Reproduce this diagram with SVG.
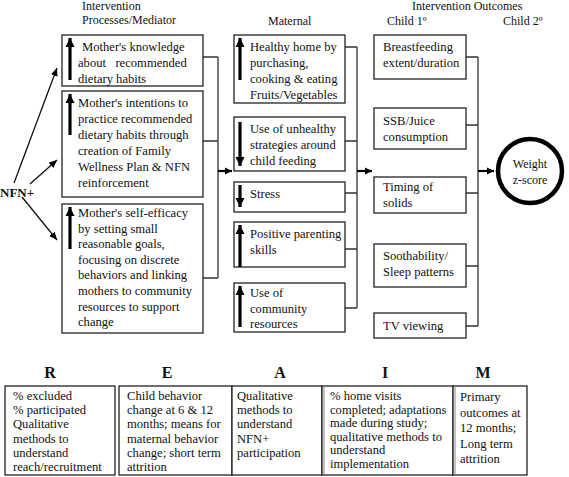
<svg xmlns="http://www.w3.org/2000/svg" width="569" height="477" viewBox="0 0 569 477" font-family="'Liberation Serif', 'Times New Roman', serif">
<defs>
<style>
text{font-family:'Liberation Serif','Times New Roman',serif;font-size:12.6px;fill:#111}
.hd{font-size:12px}
.bold{font-weight:bold}
.big{font-size:16px;font-weight:bold}
.box{fill:#fff;stroke:#222;stroke-width:1.3}
.conn{fill:none;stroke:#333;stroke-width:1.3}
.thin{fill:none;stroke:#111;stroke-width:1.3}
.ind{stroke:#000;stroke-width:3.2;marker-end:url(#bigHead)}
.go{stroke:#000;stroke-width:2.2;marker-end:url(#goHead)}
</style>
<marker id="bigHead" markerUnits="userSpaceOnUse" markerWidth="10" markerHeight="10" refX="9" refY="5" orient="auto"><path d="M0,0.5 L9,5 L0,9.5 z" fill="#000"/></marker>
<marker id="goHead" markerUnits="userSpaceOnUse" markerWidth="8" markerHeight="8" refX="7" refY="4" orient="auto"><path d="M0,0.5 L7,4 L0,7.5 z" fill="#000"/></marker>
<marker id="thinHead" markerUnits="userSpaceOnUse" markerWidth="9" markerHeight="8" refX="8" refY="4" orient="auto"><path d="M0,0.5 L8,4 L0,7.5 z" fill="#000"/></marker>
</defs>
<rect width="569" height="477" fill="#fff"/>

<g id="headers">
<text class="hd" x="82" y="10">Intervention</text>
<text class="hd" x="82" y="24">Processes/Mediator</text>
<text class="hd" x="268" y="25">Maternal</text>
<text class="hd" x="412" y="10">Intervention Outcomes</text>
<text class="hd" x="387" y="25">Child 1º</text>
<text class="hd" x="503" y="25">Child 2º</text>
</g>

<g id="connectors">
<line class="thin" x1="14" y1="183" x2="57" y2="68" marker-end="url(#thinHead)"/>
<line class="thin" x1="30" y1="184" x2="57" y2="160" marker-end="url(#thinHead)"/>
<line class="thin" x1="22" y1="197" x2="57" y2="240" marker-end="url(#thinHead)"/>
<path class="conn" d="M203,57 H218 M203,141 H218 M203,278 H218 M218,57 V278"/>
<line class="go" x1="218" y1="171" x2="232" y2="171"/>
<path class="conn" d="M345,47 H357 M345,141 H357 M345,193 H357 M345,249 H357 M345,308 H357 M357,47 V308"/>
<line class="go" x1="357" y1="171" x2="372" y2="171"/>
<path class="conn" d="M466,57 H478 M466,125 H478 M466,193 H478 M466,266 H478 M466,326 H478 M478,57 V326"/>
<line class="go" x1="478" y1="171" x2="494" y2="171"/>
</g>

<g id="nfn"><text class="bold" x="0" y="197" style="font-size:13px">NFN+</text></g>

<g id="med1">
<rect class="box" x="62" y="35" width="141" height="51"/>
<line class="ind" x1="70" y1="80" x2="70" y2="38"/>
<text x="82" y="51">Mother's knowledge</text>
<text x="78" y="67" xml:space="preserve">about   recommended</text>
<text x="78" y="83">dietary habits</text>
</g>
<g id="med2">
<rect class="box" x="62" y="91" width="141" height="106"/>
<line class="ind" x1="70" y1="135" x2="70" y2="94"/>
<text x="78" y="107">Mother's intentions to</text>
<text x="78" y="123">practice recommended</text>
<text x="78" y="139">dietary habits through</text>
<text x="78" y="155">creation of Family</text>
<text x="78" y="171">Wellness Plan &amp; NFN</text>
<text x="78" y="187">reinforcement</text>
</g>
<g id="med3">
<rect class="box" x="62" y="204" width="141" height="129"/>
<line class="ind" x1="70" y1="249" x2="70" y2="207"/>
<text x="78" y="217">Mother's self-efficacy</text>
<text x="78" y="232.6">by setting small</text>
<text x="78" y="248.2">reasonable goals,</text>
<text x="78" y="263.8">focusing on discrete</text>
<text x="78" y="279.4">behaviors and linking</text>
<text x="78" y="295">mothers to community</text>
<text x="78" y="310.6">resources to support</text>
<text x="78" y="326.2">change</text>
</g>

<g id="mat1">
<rect class="box" x="234" y="35" width="111" height="68"/>
<line class="ind" x1="240" y1="80" x2="240" y2="38"/>
<text x="250" y="51">Healthy home by</text>
<text x="250" y="67">purchasing,</text>
<text x="250" y="83">cooking &amp; eating</text>
<text x="250" y="99">Fruits/Vegetables</text>
</g>
<g id="mat2">
<rect class="box" x="234" y="117" width="111" height="54"/>
<line class="ind" x1="240" y1="122" x2="240" y2="166"/>
<text x="250" y="133">Use of unhealthy</text>
<text x="250" y="149">strategies around</text>
<text x="250" y="165">child feeding</text>
</g>
<g id="mat3">
<rect class="box" x="234" y="182" width="111" height="30"/>
<line class="ind" x1="240" y1="185" x2="240" y2="207"/>
<text x="250" y="198">Stress</text>
</g>
<g id="mat4">
<rect class="box" x="234" y="222" width="111" height="45"/>
<line class="ind" x1="240" y1="267" x2="240" y2="225"/>
<text x="250" y="238">Positive parenting</text>
<text x="250" y="254">skills</text>
</g>
<g id="mat5">
<rect class="box" x="234" y="283" width="111" height="49"/>
<line class="ind" x1="240" y1="327" x2="240" y2="286"/>
<text x="250" y="297">Use of</text>
<text x="250" y="312.5">community</text>
<text x="250" y="328">resources</text>
</g>

<g id="out1">
<rect class="box" x="374" y="35" width="92" height="44"/>
<text x="383" y="51">Breastfeeding</text>
<text x="383" y="67">extent/duration</text>
</g>
<g id="out2">
<rect class="box" x="374" y="108" width="92" height="41"/>
<text x="383" y="125">SSB/Juice</text>
<text x="383" y="141">consumption</text>
</g>
<g id="out3">
<rect class="box" x="374" y="177" width="92" height="36"/>
<text x="383" y="191">Timing of</text>
<text x="383" y="207">solids</text>
</g>
<g id="out4">
<rect class="box" x="374" y="244" width="92" height="43"/>
<text x="383" y="260">Soothability/</text>
<text x="383" y="276">Sleep patterns</text>
</g>
<g id="out5">
<rect class="box" x="374" y="313" width="92" height="25"/>
<text x="383" y="330">TV viewing</text>
</g>

<g id="weight">
<circle cx="530" cy="171" r="32" fill="#fff" stroke="#000" stroke-width="4.5"/>
<text x="530" y="168" text-anchor="middle" style="font-size:12px">Weight</text>
<text x="530" y="184" text-anchor="middle" style="font-size:12px">z-score</text>
</g>

<g id="reaim-letters">
<text class="big" x="50" y="378" text-anchor="middle">R</text>
<text class="big" x="167" y="378" text-anchor="middle">E</text>
<text class="big" x="280" y="378" text-anchor="middle">A</text>
<text class="big" x="385" y="378" text-anchor="middle">I</text>
<text class="big" x="483" y="378" text-anchor="middle">M</text>
</g>
<g id="reach">
<rect class="box" x="5" y="386" width="110" height="89"/>
<text x="13" y="400">% excluded</text>
<text x="13" y="414.2">% participated</text>
<text x="13" y="428.4">Qualitative</text>
<text x="13" y="442.6">methods to</text>
<text x="13" y="456.8">understand</text>
<text x="13" y="471">reach/recruitment</text>
</g>
<g id="effect">
<rect class="box" x="119" y="386" width="113" height="89"/>
<text x="127" y="400">Child behavior</text>
<text x="127" y="414.2">change at 6 &amp; 12</text>
<text x="127" y="428.4">months; means for</text>
<text x="127" y="442.6">maternal behavior</text>
<text x="127" y="456.8">change; short term</text>
<text x="127" y="471">attrition</text>
</g>
<g id="adopt">
<rect class="box" x="232" y="386" width="90" height="89"/>
<text x="237" y="400">Qualitative</text>
<text x="237" y="414.2">methods to</text>
<text x="237" y="428.4">understand</text>
<text x="237" y="442.6">NFN+</text>
<text x="237" y="456.8">participation</text>
</g>
<g id="implement">
<rect class="box" x="322" y="386" width="131" height="89"/>
<line x1="324" y1="386" x2="324" y2="475" stroke="#888" stroke-width="1"/>
<text x="330" y="400">% home visits</text>
<text x="330" y="413.5">completed; adaptations</text>
<text x="330" y="427">made during study;</text>
<text x="330" y="440.5">qualitative methods to</text>
<text x="330" y="454">understand</text>
<text x="330" y="467.5">implementation</text>
</g>
<g id="maintain">
<rect class="box" x="453" y="386" width="74" height="89"/>
<line x1="455" y1="386" x2="455" y2="475" stroke="#888" stroke-width="1"/>
<text x="460" y="401">Primary</text>
<text x="460" y="416.5">outcomes at</text>
<text x="460" y="432">12 months;</text>
<text x="460" y="447.5">Long term</text>
<text x="460" y="463">attrition</text>
</g>
</svg>
